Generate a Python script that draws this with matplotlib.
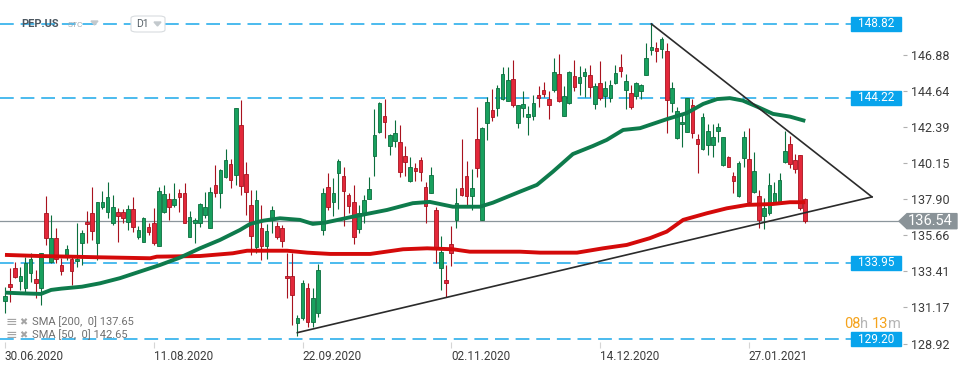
import matplotlib
matplotlib.use("Agg")
import matplotlib.pyplot as plt
import matplotlib.transforms as mtransforms
from matplotlib.patches import Rectangle, Polygon, FancyBboxPatch

plt.rcParams['font.family'] = ['Roboto', 'DejaVu Sans']

# --- daily OHLC, PEP.US, 30.06.2020 -> 11.02.2021 (index = trading day) ---
opens = [131.59, 132.63, 133.61, 132.84, 132.36, 133.30, 132.92, 132.36, 137.03, 134.02,
         135.48, 133.81, 134.44, 134.17, 134.04, 135.16, 136.51, 137.07, 135.20, 137.44,
         137.13, 136.41, 137.09, 137.09, 136.51, 137.28, 135.57, 135.26, 136.19, 136.44,
         134.99, 137.13, 137.90, 137.54, 138.27, 138.27, 135.57, 136.44, 136.40, 136.92,
         136.09, 138.79, 138.27, 139.31, 140.10, 139.41, 142.53, 139.47, 137.54, 134.91,
         136.09, 135.01, 136.61, 136.24, 136.09, 133.12, 133.12, 130.22, 130.49, 132.36,
         130.28, 130.80, 135.99, 138.65, 137.75, 139.56, 139.35, 138.17, 137.71, 136.03,
         137.03, 137.90, 140.61, 142.11, 143.09, 141.22, 141.55, 141.45, 140.58, 139.04,
         139.83, 140.35, 138.68, 138.27, 137.23, 133.60, 132.87, 135.12, 136.61, 138.58,
         139.35, 138.12, 141.65, 136.61, 142.63, 143.46, 143.60, 144.13, 144.04, 145.37,
         142.67, 143.60, 143.04, 143.11, 144.38, 144.69, 144.13, 144.72, 145.68, 143.07,
         143.88, 145.56, 145.12, 145.60, 145.62, 143.82, 145.14, 144.35, 144.23, 145.16,
         146.14, 144.72, 144.52, 144.33, 144.62, 145.66, 147.20, 147.32, 147.24, 147.13,
         143.91, 141.70, 142.57, 142.11, 143.77, 141.64, 141.01, 141.28, 141.28, 142.17,
         140.04, 140.55, 139.37, 138.12, 140.45, 140.39, 138.37, 138.12, 136.86, 137.03,
         137.75, 137.75, 140.24, 141.32, 140.35, 140.64, 137.90]
highs = [132.44, 133.61, 134.02, 133.71, 134.33, 134.54, 133.50, 134.58, 138.11, 136.93,
         136.10, 134.23, 135.06, 134.44, 136.42, 135.99, 137.18, 138.65, 137.76, 138.44,
         139.00, 138.17, 137.34, 137.28, 137.54, 138.02, 136.24, 136.82, 136.44, 137.34,
         138.68, 138.79, 138.31, 138.93, 138.52, 138.90, 137.19, 136.72, 137.65, 138.37,
         138.65, 140.04, 139.77, 141.01, 140.39, 143.57, 144.08, 140.24, 138.48, 138.48,
         137.54, 136.36, 137.50, 136.51, 136.30, 134.54, 134.54, 130.69, 132.87, 132.67,
         132.36, 133.87, 138.62, 139.52, 139.21, 140.41, 139.89, 138.31, 138.79, 137.54,
         138.17, 139.31, 143.52, 143.98, 144.13, 141.97, 142.84, 142.53, 141.22, 140.51,
         140.14, 140.55, 138.99, 139.89, 137.44, 135.61, 133.81, 136.24, 138.58, 141.64,
         140.28, 139.79, 143.63, 142.40, 144.25, 144.77, 145.02, 146.14, 146.14, 146.57,
         143.79, 144.64, 143.71, 144.38, 144.96, 145.19, 144.64, 146.70, 146.97, 144.96,
         145.89, 146.57, 146.22, 146.08, 146.26, 145.14, 146.51, 145.27, 145.33, 146.26,
         146.95, 145.70, 145.02, 145.20, 145.08, 147.61, 148.82, 147.68, 148.02, 147.61,
         145.22, 143.63, 143.15, 144.19, 144.13, 141.97, 143.26, 142.59, 142.59, 142.63,
         141.80, 140.60, 139.58, 140.30, 142.15, 142.32, 140.83, 138.48, 137.96, 139.52,
         138.96, 139.52, 142.15, 141.84, 140.72, 140.64, 137.96]
lows = [130.82, 131.53, 132.99, 132.26, 132.15, 132.77, 131.74, 131.32, 135.06, 133.92,
        133.92, 133.19, 134.13, 132.57, 133.69, 133.81, 135.20, 135.37, 134.13, 137.28,
        136.72, 136.31, 135.26, 136.44, 135.99, 135.88, 135.41, 135.26, 135.68, 135.05,
        134.99, 137.03, 136.61, 137.40, 137.13, 136.40, 135.57, 135.16, 136.16, 136.72,
        136.09, 138.02, 137.34, 139.21, 138.58, 138.79, 138.17, 136.92, 134.43, 134.54,
        134.12, 134.18, 135.78, 135.43, 134.95, 131.73, 130.07, 129.39, 130.38, 129.93,
        129.97, 130.59, 135.68, 137.23, 136.88, 137.28, 136.24, 137.03, 135.12, 135.82,
        136.40, 137.90, 139.37, 142.05, 141.70, 140.66, 141.14, 139.31, 139.37, 139.00,
        139.06, 139.06, 136.44, 138.27, 133.95, 132.26, 131.80, 133.76, 136.09, 138.13,
        137.44, 137.23, 139.31, 136.61, 141.59, 142.79, 143.11, 144.08, 144.04, 143.67,
        142.36, 143.04, 141.90, 142.84, 143.67, 144.25, 142.92, 144.56, 143.94, 143.07,
        143.84, 144.66, 144.39, 144.29, 144.29, 143.50, 144.08, 143.67, 143.98, 145.08,
        145.53, 143.50, 143.52, 144.13, 144.15, 145.62, 146.90, 146.47, 146.68, 142.01,
        143.35, 141.65, 141.18, 142.09, 141.70, 139.52, 140.97, 140.66, 140.55, 141.49,
        139.97, 139.89, 138.27, 138.06, 139.93, 137.54, 138.31, 136.09, 136.03, 136.92,
        137.65, 137.69, 140.14, 139.83, 139.52, 137.23, 136.45]
closes = [131.88, 132.46, 133.09, 133.13, 133.92, 134.17, 132.71, 134.54, 135.48, 135.48,
          134.17, 133.46, 134.79, 133.46, 134.19, 135.82, 136.35, 135.95, 137.76, 137.72,
          138.07, 137.41, 136.88, 136.72, 137.28, 136.19, 135.99, 136.72, 135.88, 135.20,
          138.42, 138.23, 137.44, 137.90, 138.02, 136.44, 136.78, 136.61, 137.61, 137.40,
          138.37, 138.27, 139.72, 140.35, 139.10, 143.57, 138.73, 138.37, 135.63, 137.86,
          135.01, 135.93, 137.23, 135.53, 135.32, 132.98, 131.94, 130.49, 132.67, 130.28,
          131.73, 133.50, 138.31, 137.44, 138.31, 140.28, 138.44, 137.50, 135.57, 137.03,
          137.86, 138.54, 141.90, 143.88, 142.69, 141.90, 142.01, 139.58, 140.20, 139.89,
          139.68, 139.62, 137.48, 139.41, 134.85, 134.64, 132.71, 134.54, 137.65, 138.17,
          138.11, 138.58, 139.87, 142.34, 143.94, 143.04, 144.81, 145.68, 145.31, 143.79,
          143.75, 143.82, 143.19, 143.88, 144.21, 144.48, 143.79, 145.81, 144.00, 144.35,
          145.81, 144.89, 145.50, 145.81, 144.91, 144.95, 144.23, 144.81, 145.00, 145.75,
          145.91, 145.27, 143.67, 145.12, 145.00, 146.70, 147.38, 147.13, 147.86, 144.08,
          144.81, 143.42, 142.71, 144.19, 142.01, 141.32, 143.01, 142.15, 141.76, 142.38,
          141.76, 139.93, 139.06, 140.14, 141.76, 137.75, 139.66, 136.61, 137.34, 138.77,
          138.27, 139.10, 140.91, 140.08, 139.81, 137.34, 136.54]

# moving averages (trading-day index, price)
sma50_x = [0, 3, 7, 9, 11, 15, 18.5, 22.4, 26.3, 30.2, 34.1, 38, 41.9, 45.8, 47.8, 50.3,
           53.6, 57.5, 60, 62.4, 67.8, 74.5, 79.5, 82.8, 87.3, 92.6, 95.1, 100.4, 103.7,
           106.8, 110.7, 114.6, 117.3, 120.5, 123.8, 129, 132.9, 136.1, 138.8, 141.3,
           143.8, 146.6, 149.7, 153, 156]
sma50_y = [132.09, 132.05, 132.01, 132.26, 132.34, 132.46, 132.67, 132.99, 133.40, 133.81,
           134.27, 134.85, 135.37, 135.99, 136.37, 136.57, 136.72, 136.62, 136.37, 136.45,
           136.82, 137.24, 137.66, 137.74, 137.44, 137.44, 137.69, 138.38, 138.80, 139.62,
           140.72, 141.22, 141.60, 142.22, 142.33, 142.89, 143.27, 143.84, 144.14, 144.20,
           144.05, 143.67, 143.22, 143.05, 142.78]
sma200_x = [0, 6.8, 18.5, 28.3, 29.6, 38, 44.4, 47.2, 55, 58.9, 63.4, 71.2, 77.6, 82.3,
            87.3, 90.6, 100.4, 104.3, 111.5, 116.6, 121.2, 125.7, 129, 132.2, 136.8,
            140.7, 144.6, 149.7, 153, 156]
sma200_y = [134.44, 134.37, 134.29, 134.23, 134.33, 134.37, 134.54, 134.70, 134.70, 134.58,
            134.50, 134.50, 134.79, 134.85, 134.79, 134.64, 134.64, 134.58, 134.58, 134.85,
            135.06, 135.48, 135.89, 136.62, 137.03, 137.34, 137.55, 137.61, 137.72, 137.72]

# triangle drawn on the chart
trend_upper_x = [126, 169]
trend_upper_y = [148.82, 138.05]
trend_lower_x = [57, 169]
trend_lower_y = [129.60, 138.05]

levels = [148.82, 144.22, 133.95, 129.20]
last_price = 136.54
price_ticks = [146.88, 144.64, 142.39, 140.15, 137.90, 135.66, 133.41, 131.17, 128.92]
date_ticks = [0, 29, 58, 87, 116, 145]
date_labels = ["30.06.2020", "11.08.2020", "22.09.2020", "02.11.2020", "14.12.2020", "27.01.2021"]

BLUE = "#1aa8ea"
fig = plt.figure(figsize=(9.7, 3.68), dpi=100)
ax = fig.add_axes([0, 1 - 345 / 368, 903 / 970, 345 / 368])
ax.set_xlim(-0.97, 175.05)
ax.set_ylim(128.83, 150.31)
for s in ax.spines.values():
    s.set_visible(False)
blend = mtransforms.blended_transform_factory(ax.transAxes, ax.transData)

# horizontal levels
for lv in levels:
    ax.axhline(lv, 0, 851 / 903, color=BLUE, lw=1.1, ls=(0, (9, 4.5)), zorder=1)
    ax.add_patch(Rectangle((851 / 903, lv - 0.44), 50 / 903, 0.88, transform=blend,
                           color="#08a4ec", clip_on=False, zorder=5))
    ax.text(876 / 903, lv, f"{lv:.2f}", transform=blend, ha="center", va="center",
            color="white", fontsize=8.5, zorder=6, clip_on=False)
ax.axhline(last_price, 0, 899 / 903, color="#8c969c", lw=0.9, zorder=1)

# candles
for i in range(len(opens)):
    o, h, l, c = opens[i], highs[i], lows[i], closes[i]
    up = c >= o
    wick = "#0b6e3d" if up else "#a8121e"
    fill = "#18a05e" if up else "#e3283a"
    ax.vlines(i, l, h, color=wick, lw=0.8, zorder=2)
    ax.bar(i, max(abs(c - o), 0.06), bottom=min(o, c), width=0.7, color=fill,
           edgecolor=wick, linewidth=0.6, zorder=3)

ax.plot(sma200_x, sma200_y, color="#d40a0a", lw=2.8, solid_capstyle="butt", zorder=4)
ax.plot(sma50_x, sma50_y, color="#0e7b4c", lw=2.8, solid_capstyle="butt", zorder=4)
ax.plot(trend_upper_x, trend_upper_y, color="#2b2b2b", lw=1.2, zorder=5)
ax.plot(trend_lower_x, trend_lower_y, color="#2b2b2b", lw=1.2, zorder=5)

# current price tag
ph = 0.47
ax.add_patch(Polygon([(899 / 903, last_price), (907 / 903, last_price + ph),
                      (957 / 903, last_price + ph), (957 / 903, last_price - ph),
                      (907 / 903, last_price - ph)], closed=True, transform=blend,
                     color="#8a9398", clip_on=False, zorder=6))
ax.text(930 / 903, last_price, f"{last_price:.2f}", transform=blend, ha="center",
        va="center", color="white", fontsize=10.5, clip_on=False, zorder=7)

# axes ticks
ax.yaxis.tick_right()
ax.set_yticks(price_ticks, [f"{t:.2f}" for t in price_ticks])
ax.tick_params(axis="y", length=3, color="#b0b0b0", labelsize=9, labelcolor="#3c3c3c", pad=3)
ax.set_xticks(date_ticks, date_labels)
ax.tick_params(axis="x", length=5, direction="inout", color="#d5d5d5", labelsize=8.5,
               labelcolor="#3c3c3c", pad=1)
for lbl in ax.get_xticklabels():
    lbl.set_ha("left")

# header
fig.text(21 / 970, 1 - 24 / 368, "PEP.US", fontsize=8, fontweight="bold", color="#4b5660",
         va="center")
fig.text(68 / 970, 1 - 25 / 368, "STC", fontsize=6, color="#a0aab2", va="center")
fig.patches.append(Polygon([(91 / 970, 1 - 21 / 368), (98 / 970, 1 - 21 / 368),
                            (94.5 / 970, 1 - 25 / 368)], closed=True,
                           transform=fig.transFigure, color="#c3c9cd"))
fig.patches.append(FancyBboxPatch((131 / 970, 1 - 32 / 368), 34 / 970, 16 / 368,
                                  boxstyle="round,pad=0,rounding_size=0.006",
                                  transform=fig.transFigure, facecolor="white",
                                  edgecolor="#d8dcdf", lw=0.8, zorder=0))
fig.text(136 / 970, 1 - 24 / 368, "D1", fontsize=7.5, color="#555f66", va="center")
fig.patches.append(Polygon([(154 / 970, 1 - 22 / 368), (161 / 970, 1 - 22 / 368),
                            (157.5 / 970, 1 - 26 / 368)], closed=True,
                           transform=fig.transFigure, color="#c3c9cd"))

# indicator legend
for yy, txt in [(322, "SMA [200,  0] 137.65"), (335, "SMA [50,  0] 142.65")]:
    fig.text(6 / 970, 1 - yy / 368, "\u2261", fontsize=10, color="#a5a5a5", va="center")
    fig.text(19 / 970, 1 - yy / 368, "\u2716", fontsize=7, color="#a5a5a5", va="center")
    fig.text(32 / 970, 1 - yy / 368, txt, fontsize=8, color="#707070", va="center")

# candle countdown
for xx, txt, col in [(844, "08", "#f5a31c"), (860, "h", "#b5b5b5"),
                     (872, "13", "#f5a31c"), (888, "m", "#b5b5b5")]:
    fig.text(xx / 970, 1 - 324 / 368, txt, fontsize=10.5, color=col, va="center")

fig.savefig("out.png", dpi=100)
